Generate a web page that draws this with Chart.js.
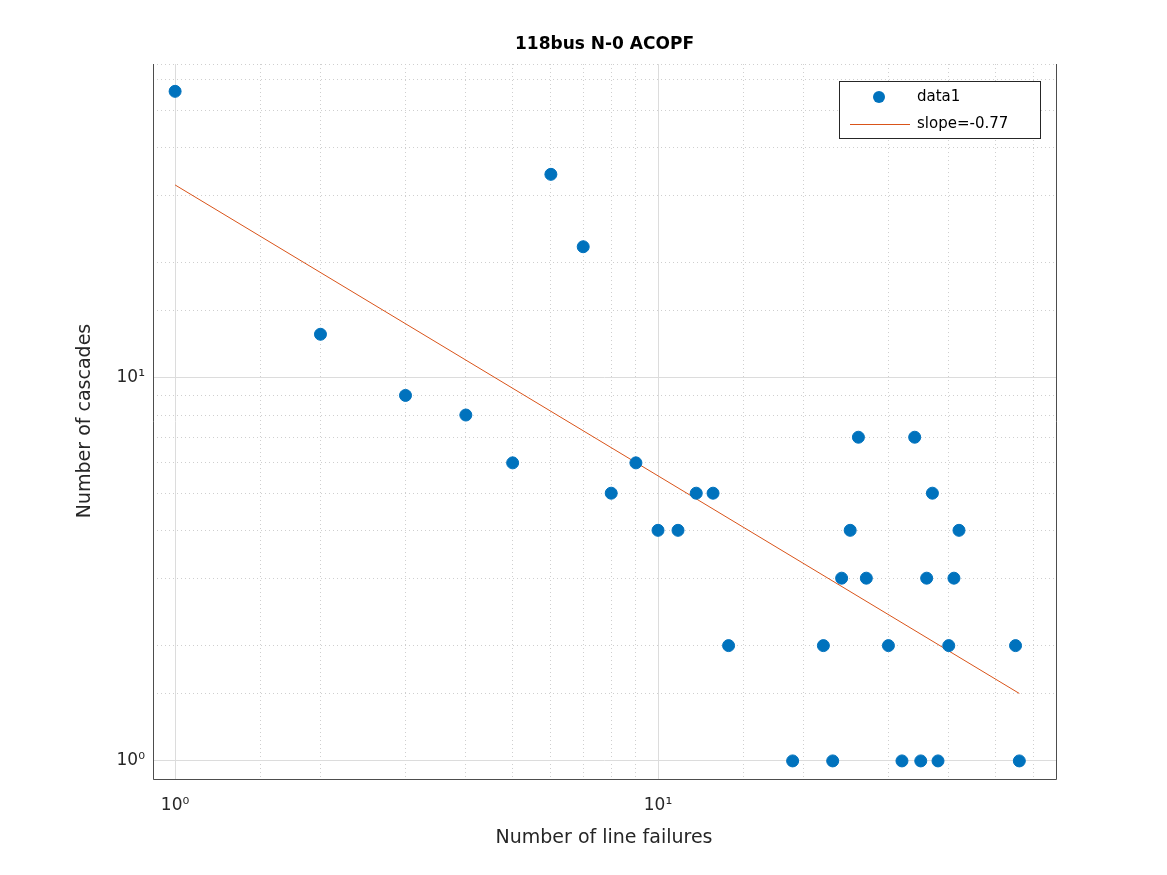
<!DOCTYPE html>
<html><head><meta charset="utf-8">
<script src="https://cdn.jsdelivr.net/npm/chart.js@4.4.0/dist/chart.umd.min.js"></script>
<style>html,body{margin:0;padding:0;background:#fff}#w{width:1167px;height:875px}</style>
</head><body><div id="w"><canvas id="c"></canvas></div>
<script>
const lineFailures = [1,2,3,4,5,6,7,8,9,10,11,12,13,14,19,22,23,24,25,26,27,30,32,34,35,36,37,38,40,41,42,55,56];
const cascades     = [56,13,9,8,6,34,22,5,6,4,4,5,5,2,1,2,1,3,4,7,3,2,1,7,1,3,5,1,2,3,4,2,1];
const fitX = [1,56];
const fitY = [31.9,1.5];
const seriesNames = ['data1','slope=-0.77'];
const decadeLabels = {1:'10⁰',10:'10¹'};
const xTitle = 'Number of line failures';
const yTitle = 'Number of cascades';
const chartTitle = '118bus N-0 ACOPF';

const isDecade = v => { const l = Math.log10(v); return Math.abs(l-Math.round(l))<1e-9; };
const gridColor = ctx => (ctx.tick && isDecade(ctx.tick.value)) ? '#dcdcdc' : '#cfcfcf';
const gridDash = ctx => (ctx.tick && isDecade(ctx.tick.value)) ? [] : [1,3];

const framePlugin = {
  id:'frame',
  afterDraw(chart){
    const {ctx, chartArea:a} = chart;
    ctx.save();
    ctx.strokeStyle='#4d4d4d'; ctx.lineWidth=1;
    ctx.beginPath();
    ctx.moveTo(a.left+0.5,a.top); ctx.lineTo(a.left+0.5,a.bottom+0.5);
    ctx.lineTo(a.right+0.5,a.bottom+0.5); ctx.lineTo(a.right+0.5,a.top);
    ctx.stroke();
    ctx.fillStyle='#000'; ctx.font='bold 17px "DejaVu Sans"'; ctx.textAlign='center'; ctx.textBaseline='middle';
    ctx.fillText(chartTitle,(a.left+a.right)/2,45);
    ctx.fillStyle='#262626'; ctx.font='19px "DejaVu Sans"';
    ctx.fillText(xTitle,604,838);
    ctx.translate(85,421); ctx.rotate(-Math.PI/2); ctx.fillText(yTitle,0,0);
    ctx.setTransform(chart.currentDevicePixelRatio||1,0,0,chart.currentDevicePixelRatio||1,0,0);
    // legend
    const lx=839, ly=81, lw=201, lh=57;
    ctx.fillStyle='#fff'; ctx.fillRect(lx,ly,lw,lh);
    ctx.strokeStyle='#262626'; ctx.strokeRect(lx+0.5,ly+0.5,lw,lh);
    ctx.fillStyle='#0072BD'; ctx.beginPath(); ctx.arc(879,97,6,0,Math.PI*2); ctx.fill();
    ctx.strokeStyle='#D95319'; ctx.beginPath(); ctx.moveTo(850,124.5); ctx.lineTo(910,124.5); ctx.stroke();
    ctx.fillStyle='#000'; ctx.font='15px "DejaVu Sans"'; ctx.textAlign='left'; ctx.textBaseline='middle';
    ctx.fillText(seriesNames[0],917,97); ctx.fillText(seriesNames[1],917,124);
    ctx.restore();
  }
};

new Chart(document.getElementById('c'),{
  data:{datasets:[
    {type:'scatter',label:seriesNames[0],data:lineFailures.map((x,i)=>({x,y:cascades[i]})),
     backgroundColor:'#0072BD',borderColor:'#0072BD',pointRadius:6,pointHoverRadius:6},
    {type:'line',label:seriesNames[1],data:fitX.map((x,i)=>({x,y:fitY[i]})),
     borderColor:'#D95319',borderWidth:1,pointRadius:0,fill:false}
  ]},
  options:{
    responsive:true,maintainAspectRatio:false,animation:false,
    layout:{padding:{top:64,right:111,left:0,bottom:0}},
    plugins:{legend:{display:false},tooltip:{enabled:false}},
    scales:{
      x:{type:'logarithmic',min:0.9,max:66.7,
        afterFit(s){s.height=96;},
        grid:{color:gridColor,drawTicks:false},
        border:{display:false,dash:gridDash},
        ticks:{autoSkip:false,maxRotation:0,padding:16,color:'#262626',font:{size:17,family:'DejaVu Sans'},
          callback:v=>decadeLabels[v]||''}
      },
      y:{type:'logarithmic',min:0.897,max:66,
        afterFit(s){s.width=153;},
        grid:{color:gridColor,drawTicks:false},
        border:{display:false,dash:gridDash},
        ticks:{autoSkip:false,padding:8,color:'#262626',font:{size:17,family:'DejaVu Sans'},
          callback:v=>decadeLabels[v]||''}
      }
    }
  },
  plugins:[framePlugin]
});
</script></body></html>
